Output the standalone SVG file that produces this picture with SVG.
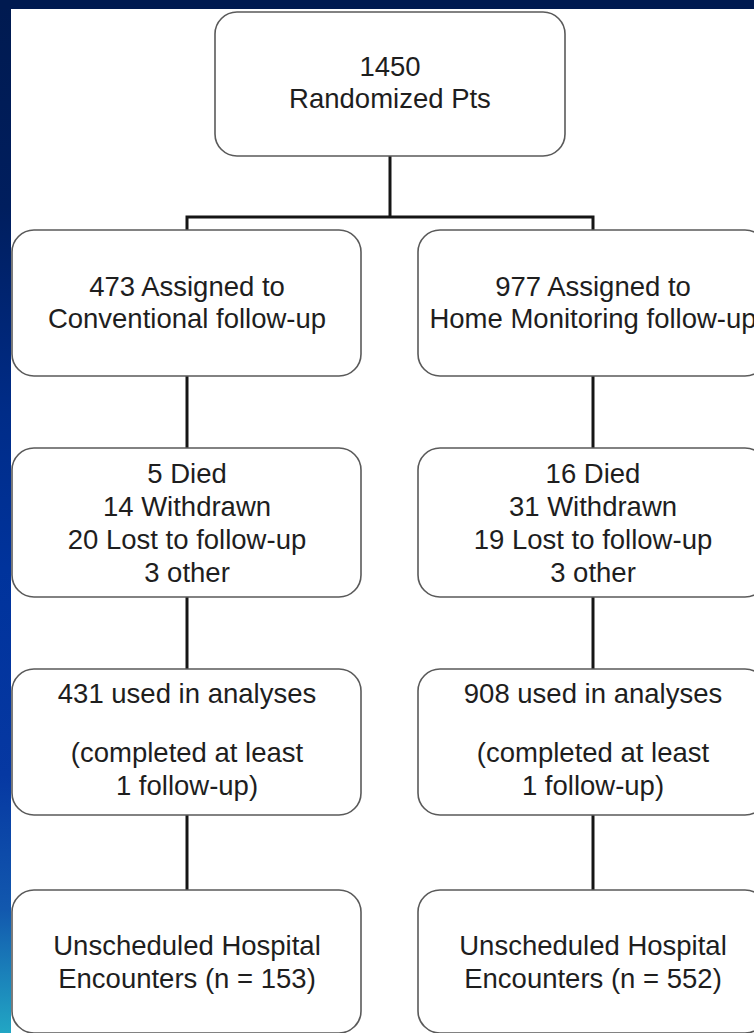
<svg xmlns="http://www.w3.org/2000/svg" width="754" height="1033" viewBox="0 0 754 1033">
  <defs>
    <linearGradient id="strip" x1="0" y1="0" x2="0" y2="1">
      <stop offset="0" stop-color="#001a50"/>
      <stop offset="0.2" stop-color="#001e5e"/>
      <stop offset="0.4" stop-color="#002c88"/>
      <stop offset="0.55" stop-color="#00339c"/>
      <stop offset="0.75" stop-color="#0638a2"/>
      <stop offset="0.88" stop-color="#1258ae"/>
      <stop offset="1" stop-color="#22a6c4"/>
    </linearGradient>
  </defs>
  <style>
    .box { fill: #ffffff; stroke: #5a5a5a; stroke-width: 1.6; }
    .lbl { font-family: "Liberation Sans", Arial, sans-serif; font-size: 27.5px; fill: #1e1e1e; text-anchor: middle; }
    .conn { fill: none; stroke: #151515; stroke-width: 3; }
  </style>

  <!-- background -->
  <rect x="0" y="0" width="754" height="1033" fill="#ffffff"/>
  <rect x="0" y="0" width="11" height="1033" fill="url(#strip)"/>
  <rect x="0" y="0" width="754" height="9" fill="#001a50"/>

  <!-- connectors -->
  <g id="connectors">
    <path class="conn" d="M390,156 V217"/>
    <path class="conn" d="M187,230 V217 H593 V230"/>
    <path class="conn" d="M187,376 V448"/>
    <path class="conn" d="M593,376 V448"/>
    <path class="conn" d="M187,597 V669"/>
    <path class="conn" d="M593,597 V669"/>
    <path class="conn" d="M187,815 V890"/>
    <path class="conn" d="M593,815 V890"/>
  </g>

  <g id="n_randomized">
    <rect class="box" x="215" y="12" width="350" height="144" rx="22" ry="22"/>
    <text class="lbl" x="390" y="76">1450</text>
    <text class="lbl" x="390" y="108">Randomized Pts</text>
  </g>

  <g id="n_conv_assigned">
    <rect class="box" x="12" y="230" width="349" height="146" rx="22" ry="22"/>
    <text class="lbl" x="187" y="296">473 Assigned to</text>
    <text class="lbl" x="187" y="328">Conventional follow-up</text>
  </g>

  <g id="n_home_assigned">
    <rect class="box" x="418" y="230" width="349" height="146" rx="22" ry="22"/>
    <text class="lbl" x="593" y="296">977 Assigned to</text>
    <text class="lbl" x="593" y="328">Home Monitoring follow-up</text>
  </g>

  <g id="n_conv_lost">
    <rect class="box" x="12" y="448" width="349" height="149" rx="22" ry="22"/>
    <text class="lbl" x="187" y="483">5 Died</text>
    <text class="lbl" x="187" y="516">14 Withdrawn</text>
    <text class="lbl" x="187" y="549">20 Lost to follow-up</text>
    <text class="lbl" x="187" y="582">3 other</text>
  </g>

  <g id="n_home_lost">
    <rect class="box" x="418" y="448" width="349" height="149" rx="22" ry="22"/>
    <text class="lbl" x="593" y="483">16 Died</text>
    <text class="lbl" x="593" y="516">31 Withdrawn</text>
    <text class="lbl" x="593" y="549">19 Lost to follow-up</text>
    <text class="lbl" x="593" y="582">3 other</text>
  </g>

  <g id="n_conv_analysed">
    <rect class="box" x="12" y="669" width="349" height="146" rx="22" ry="22"/>
    <text class="lbl" x="187" y="703">431 used in analyses</text>
    <text class="lbl" x="187" y="762">(completed at least</text>
    <text class="lbl" x="187" y="795">1 follow-up)</text>
  </g>

  <g id="n_home_analysed">
    <rect class="box" x="418" y="669" width="349" height="146" rx="22" ry="22"/>
    <text class="lbl" x="593" y="703">908 used in analyses</text>
    <text class="lbl" x="593" y="762">(completed at least</text>
    <text class="lbl" x="593" y="795">1 follow-up)</text>
  </g>

  <g id="n_conv_encounters">
    <rect class="box" x="12" y="890" width="349" height="143" rx="22" ry="22"/>
    <text class="lbl" x="187" y="955">Unscheduled Hospital</text>
    <text class="lbl" x="187" y="988">Encounters (n = 153)</text>
  </g>

  <g id="n_home_encounters">
    <rect class="box" x="418" y="890" width="349" height="143" rx="22" ry="22"/>
    <text class="lbl" x="593" y="955">Unscheduled Hospital</text>
    <text class="lbl" x="593" y="988">Encounters (n = 552)</text>
  </g>
</svg>
